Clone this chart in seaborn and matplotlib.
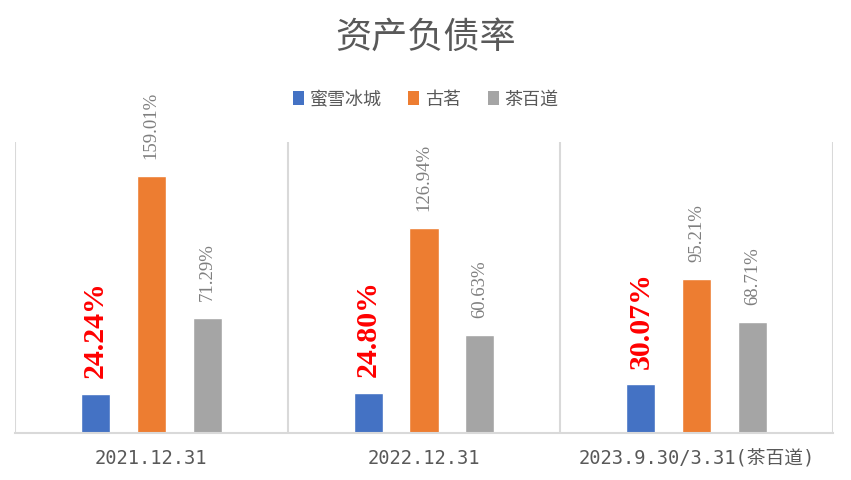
import matplotlib
matplotlib.use("Agg")
import matplotlib.pyplot as plt
import seaborn as sns
import pandas as pd
from matplotlib.patches import Patch

categories = ["2021.12.31", "2022.12.31", "2023.9.30/3.31(茶百道)"]
brands = ["蜜雪冰城", "古茗", "茶百道"]
mixue = [24.24, 24.80, 30.07]
guming = [159.01, 126.94, 95.21]
chabaidao = [71.29, 60.63, 68.71]
colors = ["#4472C4", "#ED7D31", "#A5A5A5"]

rows = []
for b, vals in zip(brands, [mixue, guming, chabaidao]):
    for c, v in zip(categories, vals):
        rows.append({"date": c, "brand": b, "value": v})
df = pd.DataFrame(rows)

sns.set_theme(style="white")
plt.rcParams["font.family"] = ["DejaVu Sans", "Noto Sans CJK SC"]

fig = plt.figure(figsize=(8.51, 4.81), dpi=100)
ax = fig.add_axes([15/851, 47/481, (833-15)/851, (434-143)/481])

sns.barplot(data=df, x="date", y="value", hue="brand", palette=colors,
            order=categories, hue_order=brands, width=0.615, gap=0.48,
            ax=ax, legend=False, saturation=1, errorbar=None)

ax.set_xlim(-0.5, 2.5)
ax.set_ylim(0, 180)
ax.set_xlabel("")
ax.set_ylabel("")
ax.set_yticks([])
ax.set_xticks(range(3))
ax.set_xticklabels(categories, family=["DejaVu Sans Mono", "Noto Sans CJK SC"],
                   fontsize=13.5, color="#595959")
ax.tick_params(axis="x", length=0, pad=11)
ax.set_xticks([-0.5, 0.5, 1.5, 2.5], minor=True)
ax.tick_params(axis="x", which="minor", length=0)
ax.grid(axis="x", which="minor", color="#D9D9D9", linewidth=1.5)
ax.grid(axis="x", which="major", visible=False)
for s in ["top", "left", "right"]:
    ax.spines[s].set_visible(False)
ax.spines["bottom"].set_color("#D9D9D9")
ax.spines["bottom"].set_linewidth(1.5)

for i, cont in enumerate(ax.containers):
    if i == 0:
        ax.bar_label(cont, labels=[f"{v:.2f}%" for v in mixue], rotation=90,
                     padding=12, color="#FF0000", fontsize=21.5, fontweight="bold",
                     family="Liberation Serif")
    else:
        vals = guming if i == 1 else chabaidao
        ax.bar_label(cont, labels=[f"{v:.2f}%" for v in vals], rotation=90,
                     padding=13, color="#7F7F7F", fontsize=13.5,
                     family="Liberation Serif")

fig.text(0.5, 1 - 38/481, "资产负债率", ha="center", va="center",
         fontsize=26, color="#595959", family=["Noto Sans CJK SC"])

handles = [Patch(facecolor=c, edgecolor="none") for c in colors]
fig.legend(handles, brands, loc="center", bbox_to_anchor=(0.5, 1 - 100/481),
           ncol=3, frameon=False, handlelength=0.6, handleheight=0.8,
           handletextpad=0.3, columnspacing=1.5,
           prop={"family": "Noto Sans CJK SC", "size": 13},
           labelcolor="#595959")

fig.savefig("out.png", dpi=100)
